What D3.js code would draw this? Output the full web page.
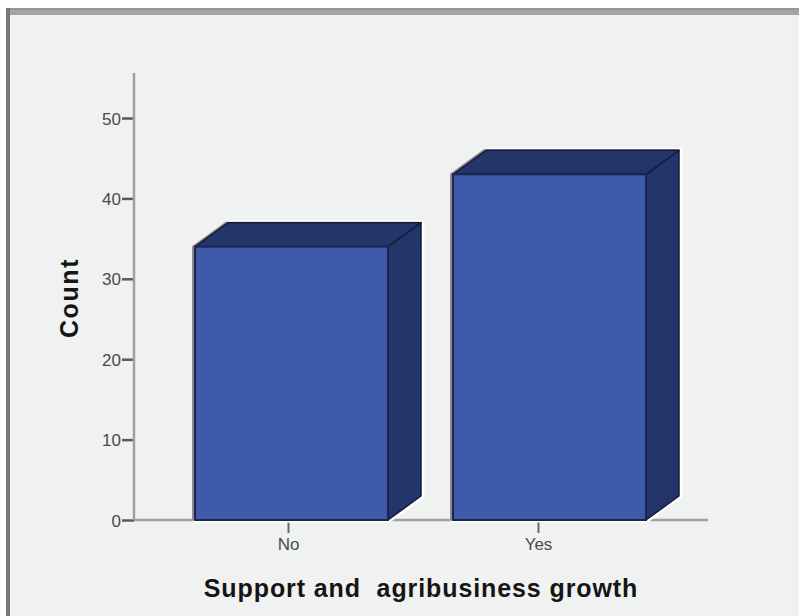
<!DOCTYPE html>
<html lang="en">
<meta charset="utf-8">
<style>
    html, body {
        margin: 0;
        padding: 0;
        background: #fefcfc;
    }
    svg {
        display: block;
        font-family: "Liberation Sans", Arial, sans-serif;
    }
</style>
<body>
<svg id="svg" width="799" height="616"></svg>
<script src="https://cdn.jsdelivr.net/npm/d3@7"></script>
<script>
    // data
    var categories = ["No", "Yes"];
    var counts = [34, 43];
    var yTicks = [0, 10, 20, 30, 40, 50];

    var svg = d3.select("svg");

    // panel frame
    svg.append("rect").attr("x", 6).attr("y", 8).attr("width", 800).attr("height", 610).attr("fill", "#f0f2f1");
    svg.append("rect").attr("x", 6).attr("y", 8).attr("width", 800).attr("height", 7).attr("fill", "#a4a4a4");
    svg.append("rect").attr("x", 6).attr("y", 8).attr("width", 800).attr("height", 2).attr("fill", "#969696");
    svg.append("rect").attr("x", 6).attr("y", 8).attr("width", 4).attr("height", 610).attr("fill", "#777");

    var y = d3.scaleLinear()
        .domain([0, 55.6])
        .range([520, 73]);

    var x = d3.scaleBand()
        .domain(categories)
        .range([195, 646])
        .paddingInner(0.252)
        .paddingOuter(0);

    // category ticks sit a little left of the bar fronts
    var xTick = d3.scalePoint()
        .domain(categories)
        .range([288, 538]);

    var depthX = 33, depthY = -24;
    var data = categories.map((c, i) => ({name: c, value: counts[i]}));

    // axes
    var yAxis = svg.append("g")
        .attr("transform", "translate(134,0)")
        .call(d3.axisLeft(y).tickValues(yTicks).tickSize(12).tickPadding(1));
    yAxis.select(".domain").remove();
    yAxis.selectAll(".tick line").attr("stroke", "#5a5a5a").attr("stroke-width", 2.5);
    yAxis.selectAll(".tick text").attr("fill", "#4a4a4a").attr("font-size", 17).attr("dy", "0.36em");
    svg.append("line")
        .attr("x1", 134).attr("x2", 134)
        .attr("y1", y.range()[1]).attr("y2", y(0))
        .attr("stroke", "#a0a0a0").attr("stroke-width", 2.5);

    svg.append("line")
        .attr("x1", 134).attr("x2", 708)
        .attr("y1", y(0)).attr("y2", y(0))
        .attr("stroke", "#a0a0a0").attr("stroke-width", 2.5);

    var xAxis = svg.append("g")
        .attr("transform", "translate(0," + y(0) + ")")
        .call(d3.axisBottom(xTick).tickSize(13).tickPadding(5));
    xAxis.select(".domain").remove();
    xAxis.selectAll(".tick line").attr("stroke", "#6a6a6a").attr("stroke-width", 2);
    xAxis.selectAll(".tick text").attr("fill", "#4a4a4a").attr("font-size", 17);

    // 3d bars
    var bars = svg.append("g").selectAll("g").data(data).enter().append("g");

    // light halo
    bars.append("path")
        .attr("d", d => {
            var x0 = x(d.name), x1 = x0 + x.bandwidth(), y0 = y(0), y1 = y(d.value);
            return "M" + x0 + "," + y0 + "V" + y1 + "L" + (x0 + depthX) + "," + (y1 + depthY) +
                "H" + (x1 + depthX) + "V" + (y0 + depthY) + "L" + x1 + "," + y0 + "Z";
        })
        .attr("fill", "none")
        .attr("stroke", "#fff")
        .attr("stroke-width", 5)
        .attr("transform", "translate(1,0)");
    bars.append("path")
        .attr("d", d => {
            var x0 = x(d.name), x1 = x0 + x.bandwidth(), y0 = y(0), y1 = y(d.value);
            return "M" + x0 + "," + y0 + "V" + y1 + "L" + (x0 + depthX) + "," + (y1 + depthY) +
                "H" + (x1 + depthX) + "V" + (y0 + depthY);
        })
        .attr("fill", "none")
        .attr("stroke", "#8c8c8c")
        .attr("stroke-width", 2)
        .attr("transform", "translate(-2,0)");

    // side face
    bars.append("path")
        .attr("d", d => {
            var x1 = x(d.name) + x.bandwidth(), y0 = y(0), y1 = y(d.value);
            return "M" + x1 + "," + y0 + "V" + y1 + "L" + (x1 + depthX) + "," + (y1 + depthY) +
                "V" + (y0 + depthY) + "Z";
        })
        .attr("fill", "#24356a")
        .attr("stroke", "#131c3c")
        .attr("stroke-width", 1.5)
        .attr("stroke-linejoin", "round");

    // top face
    bars.append("path")
        .attr("d", d => {
            var x0 = x(d.name), x1 = x0 + x.bandwidth(), y1 = y(d.value);
            return "M" + x0 + "," + y1 + "L" + (x0 + depthX) + "," + (y1 + depthY) +
                "H" + (x1 + depthX) + "L" + x1 + "," + y1 + "Z";
        })
        .attr("fill", "#24356a")
        .attr("stroke", "#131c3c")
        .attr("stroke-width", 1.5)
        .attr("stroke-linejoin", "round");

    // front face
    bars.append("rect")
        .attr("x", d => x(d.name))
        .attr("y", d => y(d.value))
        .attr("width", x.bandwidth())
        .attr("height", d => y(0) - y(d.value))
        .attr("fill", "#3e5aa8")
        .attr("stroke", "#1a2650")
        .attr("stroke-width", 2);

    // titles
    svg.append("text")
        .attr("transform", "translate(78,298) rotate(-90)")
        .attr("text-anchor", "middle")
        .attr("font-weight", "bold")
        .attr("font-size", 25)
        .attr("letter-spacing", 1.6)
        .attr("fill", "#151515")
        .text("Count");

    svg.append("text")
        .attr("x", 421)
        .attr("y", 597)
        .attr("text-anchor", "middle")
        .attr("font-weight", "bold")
        .attr("font-size", 25)
        .attr("letter-spacing", 0.9)
        .attr("fill", "#151515")
        .attr("xml:space", "preserve")
        .style("white-space", "pre")
        .text("Support and  agribusiness growth");
</script>
</body>
</html>
